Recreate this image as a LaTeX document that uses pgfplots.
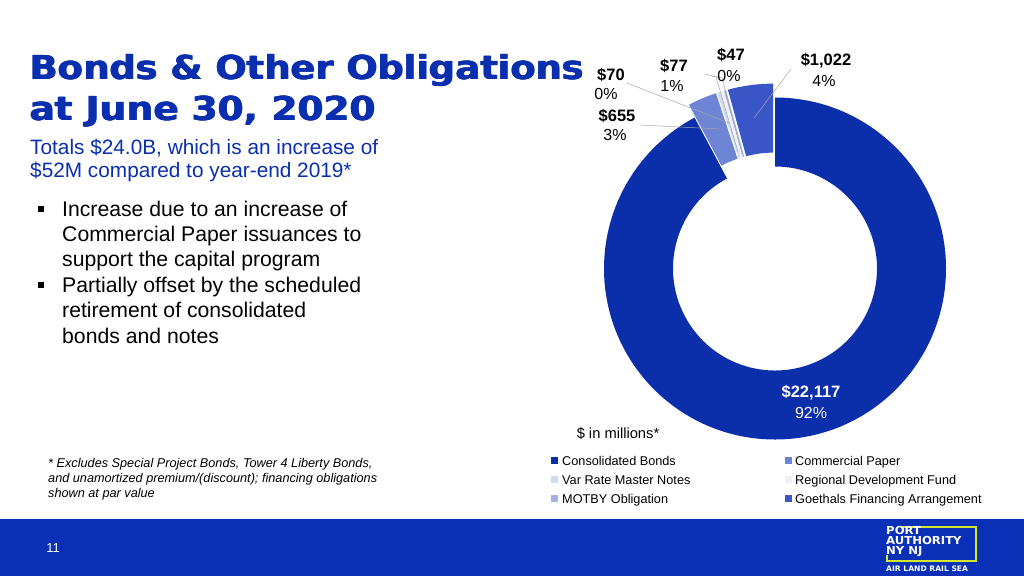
\documentclass[border=0pt]{standalone}
\usepackage{pgfplots}
\pgfplotsset{compat=1.18}
\usepackage{pgfplotstable}
\usepackage{fontspec}
\setmainfont{Liberation Sans}
\newfontfamily\titlefont{DejaVu Sans}
\definecolor{pablue}{HTML}{0B2EAA}
\definecolor{titleblue}{HTML}{0A2FAE}
\definecolor{barblue}{HTML}{0A30B8}
\definecolor{cpblue}{HTML}{6E85D6}
\definecolor{vrblue}{HTML}{D2DAF0}
\definecolor{rdfblue}{HTML}{EEF1F9}
\definecolor{motby}{HTML}{A3B1E2}
\definecolor{goethals}{HTML}{3A56C6}
\definecolor{logogreen}{HTML}{D6E82A}

\pgfplotstableread{
label value
Consolidated 22117
Commercial 655
VarRate 70
RDF 77
MOTBY 47
Goethals 1022
}\debt

% cumulative angles (clockwise from 12 o'clock)
\def\tot{0}
\foreach \i in {0,...,5}{%
  \pgfplotstablegetelem{\i}{value}\of\debt
  \xdef\tot{\fpeval{\tot+\pgfplotsretval}}%
}
\def\cum{0}
\foreach \i in {0,...,5}{%
  \pgfplotstablegetelem{\i}{value}\of\debt
  \expandafter\xdef\csname s\i\endcsname{\fpeval{90-\cum*360/\tot}}%
  \xdef\cum{\fpeval{\cum+\pgfplotsretval}}%
  \expandafter\xdef\csname e\i\endcsname{\fpeval{90-\cum*360/\tot}}%
}
\newcommand\slice[3]{%
  \edef\temp{\noexpand\fill[#2, shift={(axis cs:0,0)},
    shift={(\fpeval{(\csname s#1\endcsname+\csname e#1\endcsname)/2}:#3pt)}]
    (\csname s#1\endcsname:171pt) arc[start angle=\csname s#1\endcsname, end angle=\csname e#1\endcsname, radius=171pt]
    -- (\csname e#1\endcsname:102pt) arc[start angle=\csname e#1\endcsname, end angle=\csname s#1\endcsname, radius=102pt] -- cycle;}%
  \temp}

\begin{document}
\begin{tikzpicture}[x=1pt,y=-1pt]
\useasboundingbox (0,0) rectangle (1024,576);
\fill[white] (0,0) rectangle (1024,576);

% Title (heavy: overprinted)
\foreach \dx in {0,0.5,1.0}{
\node[anchor=base west, inner sep=0, text=titleblue] at (29.5+\dx,79)
  {\scalebox{1.115}[1.0]{\titlefont\bfseries\fontsize{33}{33}\selectfont Bonds \& Other Obligations}};
\node[anchor=base west, inner sep=0, text=titleblue] at (29.5+\dx,120)
  {\scalebox{1.135}[1.0]{\titlefont\bfseries\fontsize{33}{33}\selectfont at June 30, 2020}};
}
\node[anchor=base west, inner sep=0, text=titleblue] at (30,154)
  {\fontsize{20.8}{21}\selectfont Totals \$24.0B, which is an increase of};
\node[anchor=base west, inner sep=0, text=titleblue] at (30,177)
  {\fontsize{20.8}{21}\selectfont \$52M compared to year-end 2019*};

% Bullets
\foreach \yy/\txt in {216/Increase due to an increase of, 241.4/Commercial Paper issuances to, 266.8/support the capital program, 292.2/Partially offset by the scheduled, 317.6/retirement of consolidated, 343/bonds and notes}{
  \node[anchor=base west, inner sep=0] at (62,\yy) {\fontsize{21.2}{21}\selectfont \txt};
}
\fill[black] (38,206) rectangle (44,212);
\fill[black] (38,282) rectangle (44,288);

% Footnote
\node[anchor=base west, inner sep=0] at (48,467) {\fontsize{12.7}{13}\selectfont\itshape * Excludes Special Project Bonds, Tower 4 Liberty Bonds,};
\node[anchor=base west, inner sep=0] at (48,482) {\fontsize{12.7}{13}\selectfont\itshape and unamortized premium/(discount); financing obligations};
\node[anchor=base west, inner sep=0] at (48,497) {\fontsize{12.7}{13}\selectfont\itshape shown at par value};

% Donut
\begin{axis}[at={(775pt,-268.5pt)}, anchor=center, hide axis, scale only axis,
  width=400pt, height=400pt, xmin=-200, xmax=200, ymin=-200, ymax=200]
  \slice{0}{pablue}{0}
  \slice{1}{cpblue}{14}
  \slice{2}{vrblue}{14}
  \slice{3}{rdfblue}{14}
  \slice{4}{motby}{14}
  \slice{5}{goethals}{14}
\end{axis}

% leader lines
\draw[gray!70, line width=0.5pt] (640,125) -- (720,129);
\draw[gray!70, line width=0.5pt] (627,83) -- (729,123);
\draw[gray!70, line width=0.5pt] (705,74) -- (716,77) -- (738,152);
\draw[gray!70, line width=0.5pt] (712,76) -- (722,78) -- (742,154);
\draw[gray!70, line width=0.5pt] (791,69) -- (754,118);

% Data labels
\tikzset{vl/.style={inner sep=0, font=\fontsize{16.5}{17}\selectfont\bfseries},
         pl/.style={inner sep=0, font=\fontsize{16}{17}\selectfont}}
\node[vl] at (611,75) {\$70};
\node[pl] at (606,94) {0\%};
\node[vl] at (674,66) {\$77};
\node[pl] at (672,86) {1\%};
\node[vl] at (731,55) {\$47};
\node[pl] at (729,76) {0\%};
\node[vl] at (826,61) {\$1,022};
\node[pl] at (824,81) {4\%};
\node[vl] at (617,116) {\$655};
\node[pl] at (615,135) {3\%};
\node[vl, text=white] at (811,393) {\$22,117};
\node[pl, text=white] at (811,413) {92\%};
\node[inner sep=0, font=\fontsize{14.7}{15}\selectfont] at (618,434) {\$ in millions*};

% Legend
\foreach \yy/\c/\t in {465/pablue/Consolidated Bonds, 484/vrblue/Var Rate Master Notes, 503/motby/MOTBY Obligation}{
  \fill[\c] (551,\yy-8) rectangle (558,\yy-1);
  \node[anchor=base west, inner sep=0, font=\fontsize{12.7}{13}\selectfont] at (562,\yy) {\t};
}
\foreach \yy/\c/\t in {465/cpblue/Commercial Paper, 484/rdfblue/Regional Development Fund, 503/goethals/Goethals Financing Arrangement}{
  \fill[\c] (785,\yy-8) rectangle (792,\yy-1);
  \node[anchor=base west, inner sep=0, font=\fontsize{12.7}{13}\selectfont] at (795,\yy) {\t};
}

% Bottom bar
\fill[barblue] (0,519) rectangle (1024,576);
\node[inner sep=0, text=white, font=\fontsize{13}{13}\selectfont] at (53,548) {11};
% Logo
\draw[logogreen, line width=1.3pt] (901,527) -- (976,527) -- (976,561) -- (887,561) -- (887,555);
\tikzset{lg/.style={anchor=base west, inner sep=0, text=white, font=\titlefont\bfseries\fontsize{11}{11}\selectfont}}
\node[lg] at (886,534) {\scalebox{1.06}[1]{PORT}};
\node[lg] at (886,544) {\scalebox{1.06}[1]{AUTHORITY}};
\node[lg] at (886,554) {\scalebox{1.06}[1]{NY NJ}};
\node[anchor=base west, inner sep=0, text=white, font=\titlefont\bfseries\fontsize{7.6}{8}\selectfont] at (886,571) {AIR LAND RAIL SEA};
\end{tikzpicture}
\end{document}
